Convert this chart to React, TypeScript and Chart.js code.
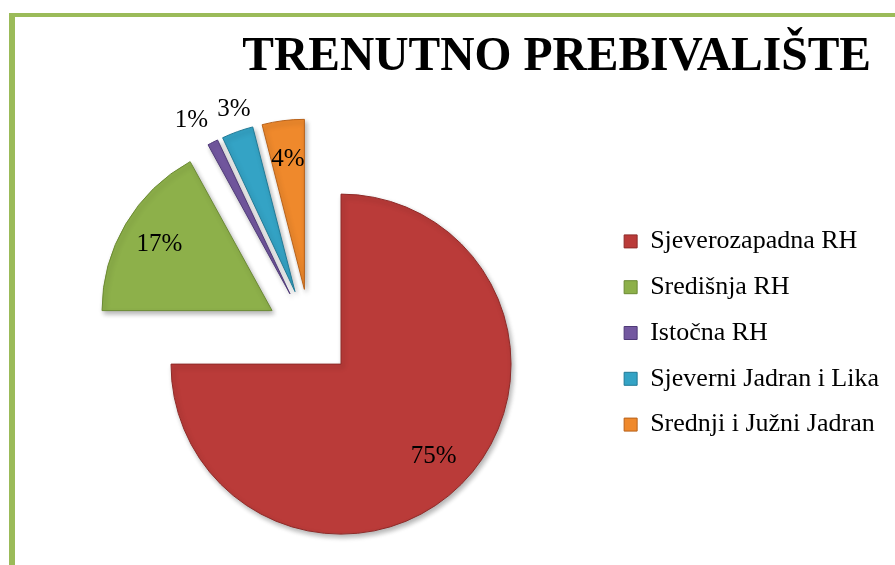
import React, { useEffect, useRef } from "react";
import { Chart, registerables } from "chart.js";

Chart.register(...registerables);

const TITLE = "TRENUTNO PREBIVALIŠTE";
const categories = [
  "Sjeverozapadna RH",
  "Središnja RH",
  "Istočna RH",
  "Sjeverni Jadran i Lika",
  "Srednji i Južni Jadran",
];
const shares = [75, 17, 1, 3, 4];
const fillColors = ["#BA3B39", "#8DB04A", "#7358A0", "#34A3C5", "#EF892C"];
const edgeColors = ["#8E2A28", "#6B8A33", "#4F3A78", "#217A96", "#B8621A"];

const FONT = "'Liberation Serif', 'Times New Roman', serif";
const EXPLODE = 44;

// every slice is pulled out from the common centre along its own mid-angle
const explodePlugin = {
  id: "explodeSlices",
  afterDatasetUpdate(chart: any, args: any) {
    args.meta.data.forEach((el: any) => {
      const mid = (el.startAngle + el.endAngle) / 2;
      el.x += Math.cos(mid) * EXPLODE;
      el.y += Math.sin(mid) * EXPLODE;
    });
  },
};

const titlePlugin = {
  id: "customTitle",
  afterDraw(chart: any) {
    const ctx = chart.ctx;
    ctx.save();
    ctx.font = `bold 47.5px ${FONT}`;
    ctx.fillStyle = "#000";
    ctx.textAlign = "right";
    ctx.textBaseline = "middle";
    ctx.fillText(TITLE, 871, 58);
    ctx.restore();
  },
};

const shadowPlugin = {
  id: "sliceShadow",
  beforeDatasetDraw(chart: any) {
    const ctx = chart.ctx;
    ctx.save();
    ctx.shadowColor = "rgba(0,0,0,0.3)";
    ctx.shadowBlur = 5;
    ctx.shadowOffsetX = 2;
    ctx.shadowOffsetY = 3;
  },
  afterDatasetDraw(chart: any) {
    chart.ctx.restore();
  },
};

const labelPlugin = {
  id: "pctLabels",
  afterDatasetsDraw(chart: any) {
    const ctx = chart.ctx;
    const meta = chart.getDatasetMeta(0);
    const data = chart.data.datasets[0].data as number[];
    const total = data.reduce((a, b) => a + b, 0);
    ctx.save();
    ctx.font = `25px ${FONT}`;
    ctx.fillStyle = "#000";
    meta.data.forEach((el: any, i: number) => {
      const mid = (el.startAngle + el.endAngle) / 2;
      const pct = Math.round((data[i] / total) * 100);
      const r = el.outerRadius;
      const c = Math.cos(mid);
      const s = Math.sin(mid);
      if (pct < 4) {
        const d = r * 1.06;
        ctx.textAlign = c < -0.4 ? "right" : "center";
        ctx.textBaseline = "bottom";
        ctx.fillText(pct + "%", el.x + c * d, el.y + s * d);
      } else {
        const d = r * 0.77;
        ctx.textAlign = "center";
        ctx.textBaseline = "middle";
        ctx.fillText(pct + "%", el.x + c * d, el.y + s * d);
      }
    });
    ctx.restore();
  },
};

export default function App() {
  const ref = useRef<HTMLCanvasElement | null>(null);

  useEffect(() => {
    if (!ref.current) return;
    const chart = new Chart(ref.current, {
      type: "pie",
      data: {
        labels: categories,
        datasets: [
          {
            data: shares,
            backgroundColor: fillColors,
            borderColor: edgeColors,
            borderWidth: 1,
            radius: 170,
          } as any,
        ],
      },
      options: {
        animation: false,
        responsive: true,
        maintainAspectRatio: false,
        layout: { padding: { left: 15.5, right: 6, top: 150, bottom: 49 } },
        plugins: {
          title: { display: false },
          tooltip: { enabled: false },
          legend: {
            position: "right",
            align: "center",
            labels: {
              font: { family: FONT, size: 26 },
              color: "#000",
              boxWidth: 13,
              boxHeight: 13,
              padding: 19.8,
            },
          },
        },
      } as any,
      plugins: [explodePlugin, shadowPlugin, labelPlugin, titlePlugin],
    });
    return () => chart.destroy();
  }, []);

  return (
    <div style={{ position: "fixed", left: 0, top: 0, width: 895, height: 565, background: "#fff", overflow: "hidden" }}>
      <div
        style={{
          position: "absolute",
          left: 9,
          top: 13,
          width: 1000,
          height: 700,
          borderLeft: "6px solid #9BBB59",
          borderTop: "4px solid #9BBB59",
        }}
      />
      <div style={{ position: "absolute", left: 0, top: 0, width: 895, height: 565 }}>
        <canvas ref={ref} />
      </div>
    </div>
  );
}
